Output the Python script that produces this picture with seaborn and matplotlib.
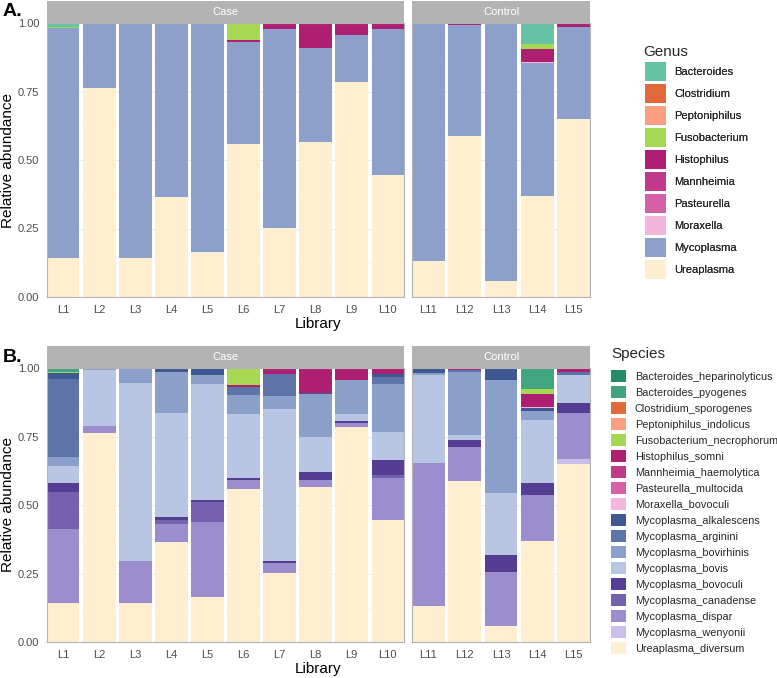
import matplotlib
matplotlib.use("Agg")
import matplotlib.pyplot as plt
from matplotlib.patches import Patch
import seaborn as sns
import pandas as pd

# ---- data -------------------------------------------------------------
libraries = ["L1", "L2", "L3", "L4", "L5", "L6", "L7", "L8", "L9", "L10",
             "L11", "L12", "L13", "L14", "L15"]
case_libs = libraries[:10]
control_libs = libraries[10:]

# genus level (panel A), values per library L1..L15
genus_names = ["Bacteroides", "Clostridium", "Peptoniphilus", "Fusobacterium",
               "Histophilus", "Mannheimia", "Pasteurella", "Moraxella",
               "Mycoplasma", "Ureaplasma"]
g_bacteroides = [0.016, 0, 0, 0, 0, 0, 0, 0, 0, 0, 0, 0, 0, 0.078, 0]
g_clostridium = [0] * 15
g_peptoniphilus = [0, 0, 0, 0, 0, 0.003, 0, 0, 0, 0, 0, 0, 0, 0, 0]
g_fusobacterium = [0.004, 0, 0, 0, 0, 0.060, 0, 0, 0, 0, 0, 0, 0, 0.017, 0]
g_histophilus = [0, 0, 0, 0.002, 0.005, 0.006, 0.023, 0.091, 0.043, 0.021,
                 0, 0.007, 0.004, 0.046, 0.015]
g_mannheimia = [0] * 15
g_pasteurella = [0, 0, 0, 0, 0, 0, 0, 0, 0, 0, 0, 0, 0, 0.003, 0]
g_moraxella = [0, 0, 0, 0, 0, 0, 0, 0, 0, 0, 0, 0, 0, 0.003, 0]
g_mycoplasma = [0.836, 0.237, 0.856, 0.632, 0.832, 0.374, 0.725, 0.344, 0.174,
                0.535, 0.870, 0.406, 0.936, 0.485, 0.336]
g_ureaplasma = [0.144, 0.763, 0.144, 0.366, 0.163, 0.557, 0.252, 0.565, 0.783,
                0.444, 0.130, 0.587, 0.060, 0.368, 0.649]
genus_colors = ["#66C2A5", "#E1693B", "#FC9F80", "#A6D854", "#AE1F72",
                "#C0398A", "#D660A8", "#F2B5DD", "#8DA0CB", "#FFEECF"]

# species level (panel B)
species_names = ["Bacteroides_heparinolyticus", "Bacteroides_pyogenes",
                 "Clostridium_sporogenes", "Peptoniphilus_indolicus",
                 "Fusobacterium_necrophorum", "Histophilus_somni",
                 "Mannheimia_haemolytica", "Pasteurella_multocida",
                 "Moraxella_bovoculi", "Mycoplasma_alkalescens",
                 "Mycoplasma_arginini", "Mycoplasma_bovirhinis",
                 "Mycoplasma_bovis", "Mycoplasma_bovoculi",
                 "Mycoplasma_canadense", "Mycoplasma_dispar",
                 "Mycoplasma_wenyonii", "Ureaplasma_diversum"]
s_bact_hep = [0] * 15
s_bact_pyo = g_bacteroides
s_clostridium = g_clostridium
s_peptoniphilus = g_peptoniphilus
s_fusobacterium = g_fusobacterium
s_histophilus = g_histophilus
s_mannheimia = g_mannheimia
s_pasteurella = g_pasteurella
s_moraxella = g_moraxella
s_alkalescens = [0.019, 0, 0, 0.012, 0.020, 0, 0, 0.004, 0, 0.012,
                 0.018, 0, 0.038, 0.011, 0]
s_arginini = [0.284, 0, 0, 0, 0, 0.030, 0.079, 0, 0, 0.024,
              0, 0.006, 0, 0, 0.009]
s_bovirhinis = [0.033, 0.009, 0.053, 0.151, 0.035, 0.069, 0.048, 0.158, 0.126,
                0.178, 0.006, 0.230, 0.413, 0.030, 0]
s_bovis = [0.065, 0.204, 0.651, 0.380, 0.420, 0.234, 0.556, 0.126, 0.026,
           0.101, 0.321, 0.018, 0.229, 0.233, 0.105]
s_bovoculi = [0.033, 0, 0, 0.009, 0.008, 0.006, 0.005, 0.028, 0.007, 0.055,
              0, 0.028, 0.061, 0.044, 0.037]
s_canadense = [0.133, 0, 0, 0.017, 0.074, 0, 0, 0, 0, 0.009,
               0, 0, 0, 0, 0]
s_dispar = [0.269, 0.024, 0.152, 0.063, 0.275, 0.035, 0.037, 0.028, 0.015,
            0.156, 0.525, 0.124, 0.195, 0.167, 0.165]
s_wenyonii = [0, 0, 0, 0, 0, 0, 0, 0, 0, 0, 0, 0, 0, 0, 0.020]
s_ureaplasma = g_ureaplasma
species_colors = ["#238B66", "#41A57F", "#E1693B", "#FC9F80", "#A6D854",
                  "#AE1F72", "#C0398A", "#D660A8", "#F2B5DD", "#3D5893",
                  "#5E74A9", "#8B9FCB", "#B8C6E4", "#543D92", "#7562AE",
                  "#9C8DCE", "#C9BFE8", "#FFEECF"]

genus_values = [g_bacteroides, g_clostridium, g_peptoniphilus, g_fusobacterium,
                g_histophilus, g_mannheimia, g_pasteurella, g_moraxella,
                g_mycoplasma, g_ureaplasma]
species_values = [s_bact_hep, s_bact_pyo, s_clostridium, s_peptoniphilus,
                  s_fusobacterium, s_histophilus, s_mannheimia, s_pasteurella,
                  s_moraxella, s_alkalescens, s_arginini, s_bovirhinis, s_bovis,
                  s_bovoculi, s_canadense, s_dispar, s_wenyonii, s_ureaplasma]

# ---- style ------------------------------------------------------------
sns.set_theme(style="whitegrid")
plt.rcParams["font.family"] = ["Liberation Sans", "DejaVu Sans"]

W, H = 777, 678
fig = plt.figure(figsize=(W / 100, H / 100), dpi=100)


def rect(x0, y0, x1, y1):
    # pixel box (top-left origin) -> figure fraction
    return [x0 / W, 1 - y1 / H, (x1 - x0) / W, (y1 - y0) / H]


def stacked_bars(ax, libs, names, values, colors):
    wide = pd.DataFrame(dict(zip(names, values)), index=libraries).loc[libs]
    cum = wide[names[::-1]].cumsum(axis=1)
    # tallest (top-of-stack) first, lower layers painted over it
    for name, col in zip(names, colors):
        df = pd.DataFrame({"library": libs, "top": cum[name].values})
        sns.barplot(data=df, x="library", y="top", order=libs, color=col,
                    saturation=1, width=0.9, linewidth=0, errorbar=None, ax=ax)
    ax.set_xlim(-0.45, len(libs) - 0.55)
    ax.set_ylim(0, 1)
    ax.set_xlabel("")
    ax.set_ylabel("")
    ax.set_yticks([0, 0.25, 0.5, 0.75, 1])
    ax.set_yticks([0.125, 0.375, 0.625, 0.875], minor=True)
    ax.grid(which="major", color="#EBEBEB", lw=0.7)
    ax.grid(which="minor", axis="y", color="#F4F4F4", lw=0.5)
    ax.set_axisbelow(True)
    for s in ax.spines.values():
        s.set_color("#B3B3B3")
        s.set_linewidth(0.8)
    ax.tick_params(which="major", colors="#B3B3B3", labelcolor="#4D4D4D",
                   labelsize=8, length=3.5, width=0.6, pad=2)
    ax.tick_params(which="minor", length=0)


def strip(x0, y0, x1, y1, label):
    sax = fig.add_axes(rect(x0, y0, x1, y1))
    sax.set_facecolor("#B3B3B3")
    sax.set_xticks([])
    sax.set_yticks([])
    for s in sax.spines.values():
        s.set_visible(False)
    sax.text(0.5, 0.5, label, color="white", fontsize=8,
             ha="center", va="center", transform=sax.transAxes)


def panel(top, names, values, colors, tag):
    y0, y1 = top + 22, top + 296
    ax_case = fig.add_axes(rect(47, y0, 404, y1))
    ax_ctrl = fig.add_axes(rect(412, y0, 590, y1))
    stacked_bars(ax_case, case_libs, names, values, colors)
    stacked_bars(ax_ctrl, control_libs, names, values, colors)
    ax_case.set_yticklabels(["0.00", "0.25", "0.50", "0.75", "1.00"])
    ax_ctrl.tick_params(axis="y", left=False, labelleft=False)
    strip(47, top, 404, y0, "Case")
    strip(412, top, 590, y0, "Control")
    fig.text(8 / W, 1 - (y0 + y1) / 2 / H, "Relative abundance", rotation=90,
             ha="center", va="center", fontsize=11, color="black")
    fig.text(318 / W, 1 - (y1 + 27) / H, "Library", ha="center", va="center",
             fontsize=11, color="black")
    fig.text(3 / W, 1 - (top + 11) / H, tag, ha="left", va="center",
             fontsize=14, fontweight="bold", color="black")


panel(1, genus_names, genus_values, genus_colors, "A.")
panel(346, species_names, species_values, species_colors, "B.")

# legends: titles as text, entries through fig.legend
fig.text(643 / W, 1 - 52 / H, "Genus", ha="left", va="center", fontsize=11)
leg_a = fig.legend([Patch(facecolor=c, edgecolor="none") for c in genus_colors],
                   genus_names, loc="upper left",
                   bbox_to_anchor=(645 / W, 1 - 62 / H), frameon=False,
                   fontsize=8, handleheight=2.26, handlelength=1.89,
                   labelspacing=0.27, handletextpad=0.72,
                   borderpad=0, borderaxespad=0)
fig.add_artist(leg_a)

fig.text(611 / W, 1 - 354 / H, "Species", ha="left", va="center", fontsize=11)
fig.legend([Patch(facecolor=c, edgecolor="none") for c in species_colors],
           species_names, loc="upper left",
           bbox_to_anchor=(611 / W, 1 - 370 / H), frameon=False,
           fontsize=7.8, handleheight=1.327, handlelength=1.385,
           labelspacing=0.369, handletextpad=0.8,
           borderpad=0, borderaxespad=0)

fig.savefig("out.png", dpi=100, facecolor="white")
